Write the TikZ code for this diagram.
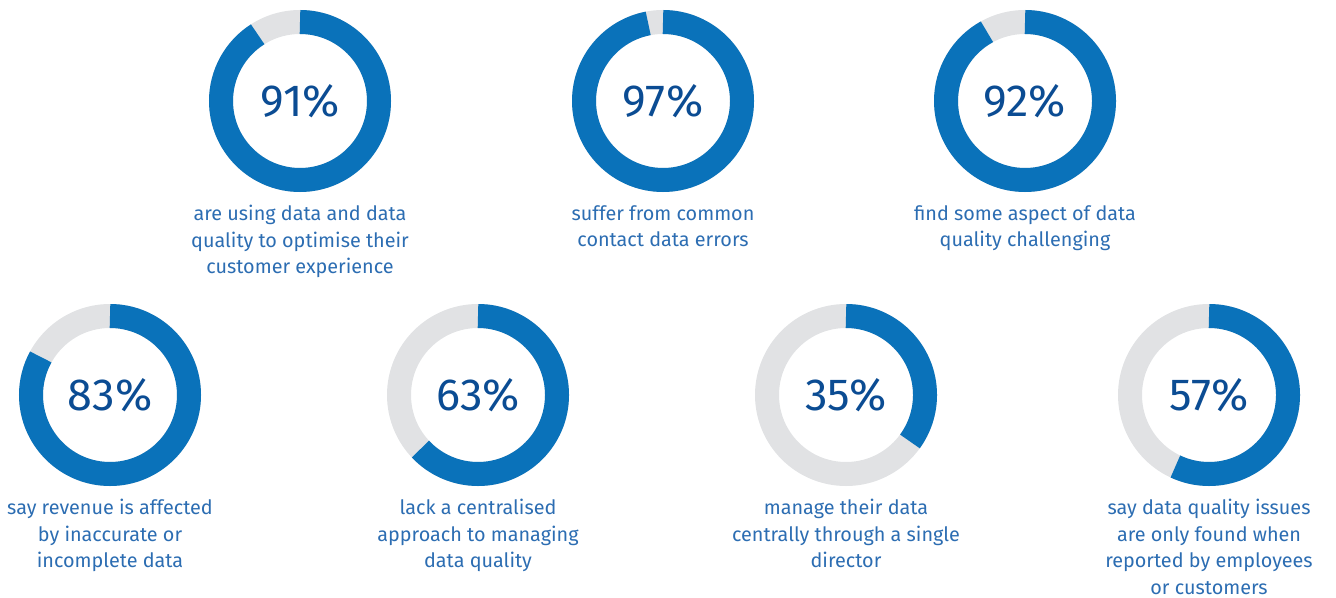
\documentclass[tikz,border=0pt]{standalone}
\usepackage{fontspec}
\setmainfont{Fira Sans}
\usetikzlibrary{positioning}
\definecolor{ringblue}{HTML}{0A72BA}
\definecolor{ringgrey}{HTML}{E1E2E4}
\definecolor{numblue}{HTML}{0B4C93}
\definecolor{textblue}{HTML}{2C6DB2}
\begin{document}
\begin{tikzpicture}[x=0.5pt,y=0.5pt,
  pct/.style={text=numblue,font=\fontsize{22.5}{26}\selectfont},
  caption/.style={text=textblue,font=\fontsize{9.9}{13.25}\selectfont,align=center,inner sep=0pt},
  ]
\useasboundingbox (0,0) rectangle (1336,-598);
\def\rmid{39.5pt}
\def\rwid{12pt}
% x, y, percent, name, caption
\newcommand\ring[5]{%
  \coordinate (#4) at (#1,-#2);
  \draw[ringgrey,line width=\rwid] (#4) circle (\rmid);
  \draw[ringblue,line width=\rwid] (#4) ++(90:\rmid)
    arc[start angle=90,delta angle={-3.6*#3},radius=\rmid];
  \node[pct] (#4-pct) at (#4) {#3\%};
  \node[caption,below=52pt of #4] (#4-txt) {#5};
}
\ring{300}{101}{91}{exper}{are using data and data\\quality to optimise their\\customer experience}
\ring{663}{101}{97}{errors}{suffer from common\\contact data errors}
\ring{1025}{101}{92}{aspect}{find some aspect of data\\quality challenging}
\ring{110}{395}{83}{revenue}{say revenue is affected\\by inaccurate or\\incomplete data}
\ring{478}{395}{63}{central}{lack a centralised\\approach to managing\\data quality}
\ring{846}{395}{35}{director}{manage their data\\centrally through a single\\director}
\ring{1209}{395}{57}{issues}{say data quality issues\\are only found when\\reported by employees\\or customers}
\end{tikzpicture}
\end{document}
